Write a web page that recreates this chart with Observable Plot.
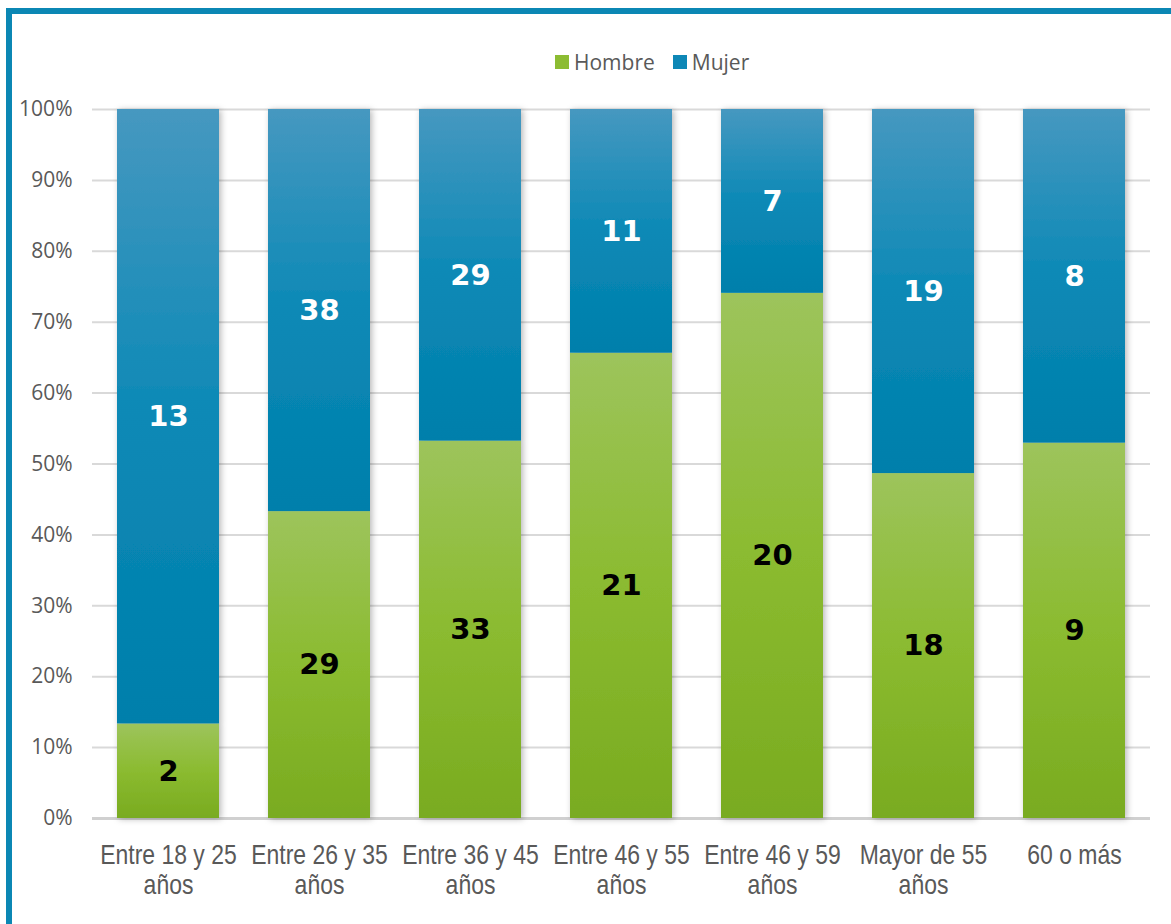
<!DOCTYPE html>
<html>
<head>
<meta charset="utf-8">
<script src="https://cdn.jsdelivr.net/npm/d3@7"></script>
<script src="https://cdn.jsdelivr.net/npm/@observablehq/plot@0.6"></script>
<style>
  html, body { margin: 0; padding: 0; background: #fff; }
  #wrap { position: relative; width: 1171px; height: 924px; overflow: hidden; background: #fff; }
  #frame { position: absolute; left: 6px; top: 8px; width: 1200px; height: 1000px;
           border-top: 6px solid #0b87b4; border-left: 6px solid #0b87b4; box-sizing: border-box; pointer-events: none; }
  #chart { position: absolute; left: 0; top: 0; }
  #legend { position: absolute; top: 48px; left: 555px; font-family: "Open Sans", sans-serif; font-size: 21px; color: #595959;
            display: flex; align-items: center; white-space: nowrap; }
  .sw { display: inline-block; width: 14px; height: 14px; margin-right: 5px; }
  .item { display: inline-flex; align-items: center; margin-right: 18px; }
</style>
</head>
<body>
<div id="wrap">
  <div id="chart"></div>
  <div id="frame"></div>
  <div id="legend"></div>
</div>
<script>
// ---- data ----
const ageGroups = ["Entre 18 y 25\naños", "Entre 26 y 35\naños", "Entre 36 y 45\naños", "Entre 46 y 55\naños", "Entre 46 y 59\naños", "Mayor de 55\naños", "60 o más"];
const series = ["Hombre", "Mujer"];
const hombre = [2, 29, 33, 21, 20, 18, 9];
const mujer = [13, 38, 29, 11, 7, 19, 8];
const yTicks = [0, 0.1, 0.2, 0.3, 0.4, 0.5, 0.6, 0.7, 0.8, 0.9, 1];

const seriesFill = {Hombre: "url(#gHombre)", Mujer: "url(#gMujer)"};
const labelFill = {Hombre: "#000000", Mujer: "#ffffff"};
const swatch = {Hombre: "#8cbc32", Mujer: "#0e87b6"};

const rows = ageGroups.flatMap((g, i) => [
  {grupo: g, sexo: "Hombre", valor: hombre[i]},
  {grupo: g, sexo: "Mujer", valor: mujer[i]}
]);

function defsMark() {
  const defs = d3.create("svg:defs");
  const gH = defs.append("linearGradient").attr("id", "gHombre").attr("x1", 0).attr("y1", 0).attr("x2", 0).attr("y2", 1);
  gH.append("stop").attr("offset", "0%").attr("stop-color", "#9dc45c");
  gH.append("stop").attr("offset", "50%").attr("stop-color", "#8bbb30");
  gH.append("stop").attr("offset", "100%").attr("stop-color", "#79ab20");
  const gM = defs.append("linearGradient").attr("id", "gMujer").attr("x1", 0).attr("y1", 0).attr("x2", 0).attr("y2", 1);
  gM.append("stop").attr("offset", "0%").attr("stop-color", "#4698c0");
  gM.append("stop").attr("offset", "50%").attr("stop-color", "#0c89b6");
  gM.append("stop").attr("offset", "100%").attr("stop-color", "#007fab");
  const f = defs.append("filter").attr("id", "barShadow").attr("x", "-10%").attr("y", "-5%").attr("width", "125%").attr("height", "110%");
  f.append("feDropShadow").attr("dx", 2).attr("dy", 1).attr("stdDeviation", 3).attr("flood-color", "#000").attr("flood-opacity", 0.28);
  return defs.node();
}

const chart = Plot.plot({
  width: 1171,
  height: 924,
  marginLeft: 92,
  marginRight: 21,
  marginTop: 109,
  marginBottom: 106,
  style: {background: "transparent", color: "#595959"},
  x: {domain: ageGroups, paddingInner: 0.3245, paddingOuter: 0.1623, label: null},
  y: {domain: [0, 1], label: null},
  color: {type: "identity"},
  marks: [
    defsMark,
    Plot.ruleY(yTicks.slice(1), {stroke: "#d9d9d9", strokeWidth: 2}),
    Plot.ruleY([0], {stroke: "#d0d0d0", strokeWidth: 3}),
    Plot.barY(rows, Plot.stackY({offset: "normalize", x: "grupo", y: "valor", z: "sexo", fill: d => seriesFill[d.sexo]})),
    Plot.text(rows, Plot.stackY({offset: "normalize", x: "grupo", y: "valor", z: "sexo",
      text: d => String(d.valor), fill: d => labelFill[d.sexo],
      fontSize: 29, fontWeight: "bold", fontFamily: "'DejaVu Sans', sans-serif"})),
    Plot.axisY({ticks: yTicks, tickFormat: d3.format(".0%"), tickSize: 0, tickPadding: 20,
      fontSize: 21, fontFamily: "'Open Sans', sans-serif", label: null}),
    Plot.axisX({tickSize: 0, tickPadding: 24, fontSize: 28, lineHeight: 1.07,
      fontFamily: "'Liberation Sans', Arial, sans-serif", label: null})
  ]
});

d3.select(chart).selectAll("g[aria-label='bar']").attr("filter", "url(#barShadow)");
document.getElementById("chart").appendChild(chart);

// narrow the category labels horizontally (Arial Narrow look)
const flatNames = new Set(ageGroups.map(g => g.replace("\n", "")));
chart.querySelectorAll("text").forEach(el => {
  if (!flatNames.has(el.textContent)) return;
  const t = el.getAttribute("transform");
  if (t) {
    el.setAttribute("transform", t + " scale(0.82,1)");
  } else {
    const b = el.getBBox();
    const cx = b.x + b.width / 2;
    el.setAttribute("transform", `translate(${cx},0) scale(0.82,1) translate(${-cx},0)`);
  }
});

// legend
const legend = d3.select("#legend");
series.forEach(s => {
  const it = legend.append("span").attr("class", "item");
  it.append("span").attr("class", "sw").style("background", swatch[s]);
  it.append("span").text(s);
});
</script>
</body>
</html>
